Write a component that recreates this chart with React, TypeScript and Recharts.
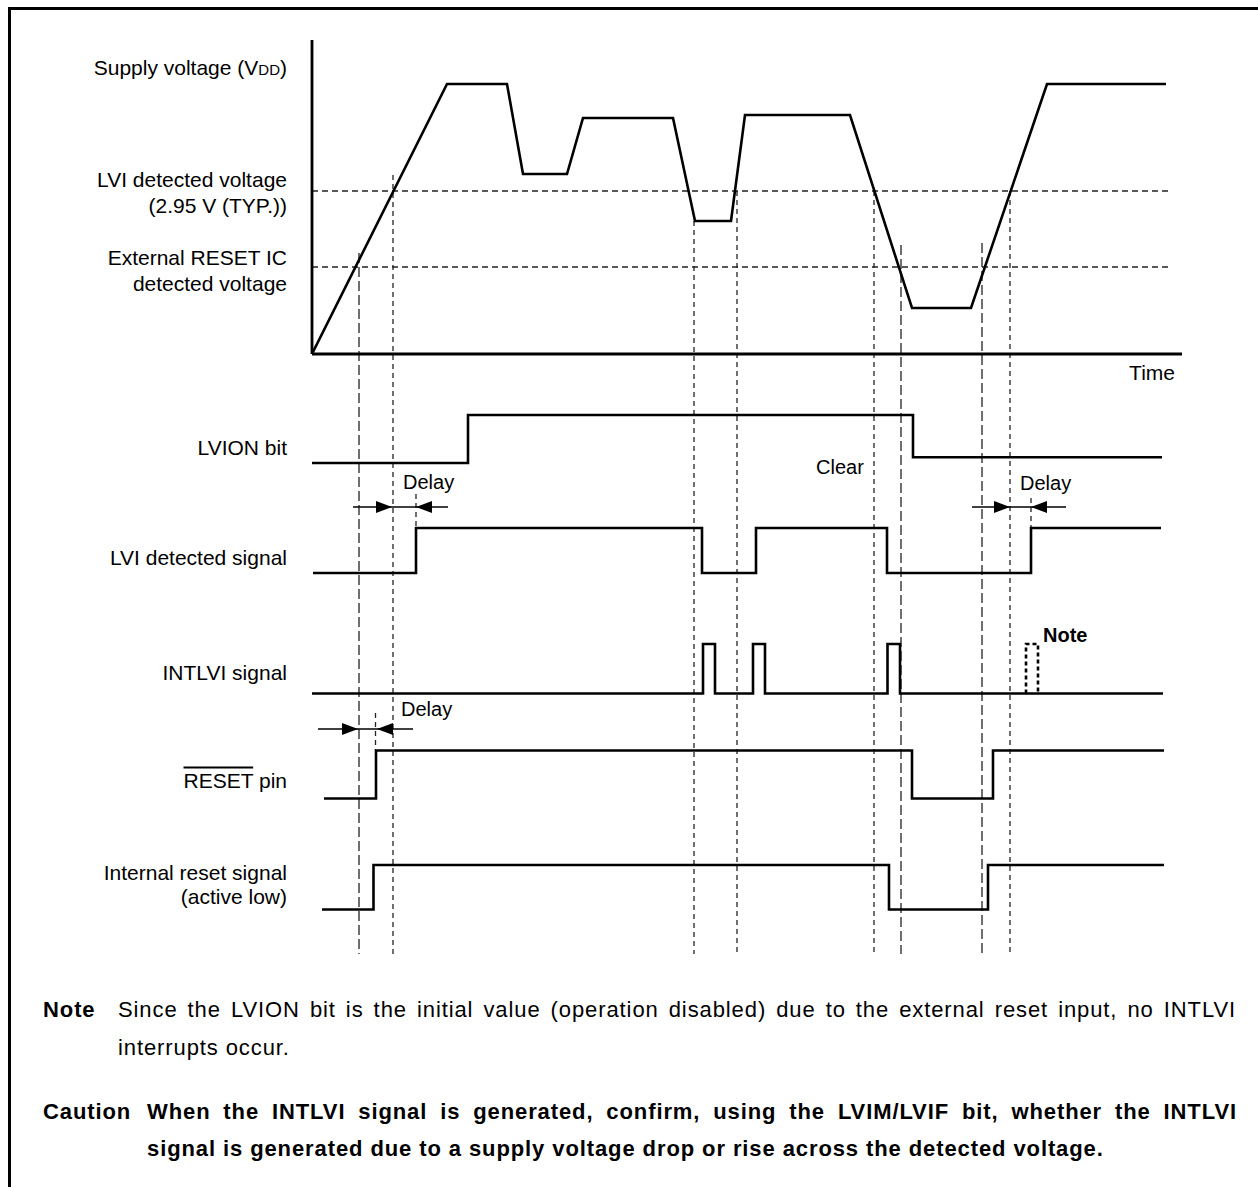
import React from "react";
import {
  ComposedChart,
  Line,
  Scatter,
  XAxis,
  YAxis,
  ReferenceLine,
} from "recharts";

// time in arbitrary units, 0 = origin of the VDD graph
const vddTimes = [0, 13.5, 19.5, 21.1, 25.5, 27.1, 36.1, 38.3, 41.9, 43.3, 53.8, 60, 65.9, 73.5, 85.4];
const vddLevels = [0, 27, 27, 18, 18, 23.6, 23.6, 13.3, 13.3, 23.9, 23.9, 4.6, 4.6, 27, 27];
const lviDetectLevel = 16.3;
const extResetLevel = 8.7;
const lviLineEnd = 86;
const extLineEnd = 85.6;

// digital signals: transition times and logic levels (0 low, 1 high)
const lvionTimes = [0, 15.6, 60.1, 85];
const lvionLevels = [0, 1, 0.12, 0.12];
const lviSigTimes = [0.1, 10.4, 39, 44.4, 57.5, 71.9, 84.9];
const lviSigLevels = [0, 1, 0, 1, 0, 1, 1];
const intlviTimes = [0, 39.1, 40.3, 44.1, 45.3, 57.55, 58.8, 85.1];
const intlviLevels = [0, 1, 0, 1, 0, 1, 0, 0];
const notePulseTimes = [71.4, 71.4, 72.6];
const notePulseLevels = [0, 1, 0];
const resetPinTimes = [1.2, 6.4, 60, 68.1, 85.2];
const resetPinLevels = [0, 1, 0, 1, 1];
const intResetTimes = [1.0, 6.15, 57.7, 67.6, 85.2];
const intResetLevels = [0, 1, 0, 1, 1];

// vertical guide lines (time, top level)
const guideTimes = [4.7, 8.1, 38.2, 42.5, 56.2, 58.9, 67, 69.8];
const guideTops = [10.1, 17.9, 13.3, 16.3, 16.3, 10.9, 11.1, 16.3];
const longDashGuides = [0, 5, 6];

// delay markers
const shaftStarts = [4.1, 66, 0.6];
const shaftEnds = [13.6, 75.4, 10.1];
const shaftLevels = [-15.3, -15.3, -37.5];
const arrowTimes = [8.0, 10.4, 69.8, 71.9, 4.6, 6.5];
const arrowLevels = [-15.3, -15.3, -15.3, -15.3, -37.5, -37.5];
const arrowDirs = ["r", "l", "r", "l", "r", "l"];
const tickTimes = [10.4, 71.9, 6.35];
const tickTops = [-14, -14.4, -35.9];
const tickBottoms = [-17.4, -17.4, -39.6];

// lane placement (layout only)
const lanes = {
  lvion: { base: -10.9, amp: 4.8 },
  lviSig: { base: -21.9, amp: 4.5 },
  intlvi: { base: -33.95, amp: 4.95 },
  resetPin: { base: -44.45, amp: 4.8 },
  intReset: { base: -55.55, amp: 4.45 },
};

const toRows = (times: number[], levels: number[], lane?: { base: number; amp: number }) =>
  times.map((t, i) => ({ t, v: lane ? lane.base + levels[i] * lane.amp : levels[i] }));

const vddData = toRows(vddTimes, vddLevels);
const lvionData = toRows(lvionTimes, lvionLevels, lanes.lvion);
const lviSigData = toRows(lviSigTimes, lviSigLevels, lanes.lviSig);
const intlviData = toRows(intlviTimes, intlviLevels, lanes.intlvi);
const noteData = toRows(notePulseTimes, notePulseLevels, lanes.intlvi);
const resetData = toRows(resetPinTimes, resetPinLevels, lanes.resetPin);
const intResetData = toRows(intResetTimes, intResetLevels, lanes.intReset);
const arrowData = arrowTimes.map((t, i) => ({ t, v: arrowLevels[i], dir: arrowDirs[i] }));

const BOTTOM = -60;
const TOP = 31.4;

const ArrowHead = (props: any) => {
  const { cx, cy, payload } = props;
  const d = payload.dir === "r" ? -1 : 1;
  const pts = `${cx},${cy} ${cx + d * 16},${cy - 6} ${cx + d * 16},${cy + 6}`;
  return <polygon points={pts} fill="#000" />;
};

const font = '"Liberation Sans", Arial, Helvetica, sans-serif';

const Txt = ({ x, y, right, bold, size = 21, ls = 0, children }: any) => (
  <div
    style={{
      position: "absolute",
      top: y,
      transform: "translateY(-50%)",
      ...(right ? { right: 1258 - x, textAlign: "right" } : { left: x }),
      fontWeight: bold ? "bold" : "normal",
      fontSize: size,
      letterSpacing: ls,
      lineHeight: 1,
      whiteSpace: "nowrap",
    }}
  >
    {children}
  </div>
);

const JustLine = ({ x, y, w, bold, children }: any) => (
  <div
    style={{
      position: "absolute",
      left: x,
      top: y,
      width: w,
      transform: "translateY(-50%)",
      fontSize: 22,
      letterSpacing: 0.9,
      lineHeight: 1,
      fontWeight: bold ? "bold" : "normal",
      textAlign: "justify",
      textAlignLast: "justify",
      whiteSpace: "nowrap",
    }}
  >
    {children}
  </div>
);

const wave = { stroke: "#000", strokeWidth: 2.6, dot: false, activeDot: false, isAnimationActive: false };

export default function App() {
  return (
    <div
      style={{
        position: "absolute",
        left: 0,
        top: 0,
        width: 1258,
        height: 1187,
        background: "#fff",
        overflow: "hidden",
        fontFamily: font,
        color: "#000",
      }}
    >
      <div
        style={{
          position: "absolute",
          left: 8,
          top: 7,
          width: 1260,
          height: 1190,
          borderTop: "3px solid #000",
          borderLeft: "3px solid #000",
        }}
      />
      <ComposedChart
        width={1258}
        height={1187}
        margin={{ top: 40, right: 76, bottom: 233, left: 312 }}
        style={{ position: "absolute", left: 0, top: 0 }}
      >
        <XAxis type="number" dataKey="t" domain={[0, 87]} hide allowDataOverflow />
        <YAxis type="number" domain={[BOTTOM, TOP]} hide allowDataOverflow />

        {guideTimes.map((t, i) => (
          <ReferenceLine
            key={`g${i}`}
            segment={[{ x: t, y: guideTops[i] }, { x: t, y: BOTTOM }]}
            stroke="#222"
            strokeWidth={1.3}
            strokeDasharray={longDashGuides.includes(i) ? "10 4" : "5 4"}
          />
        ))}
        <ReferenceLine
          segment={[{ x: 0, y: lviDetectLevel }, { x: lviLineEnd, y: lviDetectLevel }]}
          stroke="#222"
          strokeWidth={1.3}
          strokeDasharray="6 4"
        />
        <ReferenceLine
          segment={[{ x: 0, y: extResetLevel }, { x: extLineEnd, y: extResetLevel }]}
          stroke="#222"
          strokeWidth={1.3}
          strokeDasharray="6 4"
        />
        {tickTimes.map((t, i) => (
          <ReferenceLine
            key={`k${i}`}
            segment={[{ x: t, y: tickTops[i] }, { x: t, y: tickBottoms[i] }]}
            stroke="#222"
            strokeWidth={1.3}
            strokeDasharray="5 4"
          />
        ))}
        {shaftStarts.map((s, i) => (
          <ReferenceLine
            key={`s${i}`}
            segment={[{ x: s, y: shaftLevels[i] }, { x: shaftEnds[i], y: shaftLevels[i] }]}
            stroke="#000"
            strokeWidth={1.3}
          />
        ))}

        {/* axes of the VDD graph */}
        <ReferenceLine segment={[{ x: 0, y: 0 }, { x: 0, y: TOP }]} stroke="#000" strokeWidth={2.8} />
        <ReferenceLine y={0} stroke="#000" strokeWidth={2.8} />

        <Line data={vddData} dataKey="v" type="linear" {...wave} />
        <Line data={lvionData} dataKey="v" type="stepAfter" {...wave} />
        <Line data={lviSigData} dataKey="v" type="stepAfter" {...wave} />
        <Line data={intlviData} dataKey="v" type="stepAfter" {...wave} />
        <Line data={noteData} dataKey="v" type="stepAfter" {...wave} strokeDasharray="4 3" />
        <Line data={resetData} dataKey="v" type="stepAfter" {...wave} />
        <Line data={intResetData} dataKey="v" type="stepAfter" {...wave} />
        <Scatter data={arrowData} dataKey="v" shape={ArrowHead} isAnimationActive={false} />
      </ComposedChart>

      <Txt x={287} y={67} right>
        Supply voltage (V<span style={{ fontSize: 15 }}>DD</span>)
      </Txt>
      <Txt x={287} y={179} right>LVI detected voltage</Txt>
      <Txt x={287} y={205} right>(2.95 V (TYP.))</Txt>
      <Txt x={287} y={257} right>External RESET IC</Txt>
      <Txt x={287} y={283} right>detected voltage</Txt>
      <Txt x={1175} y={372} right>Time</Txt>
      <Txt x={287} y={447} right>LVION bit</Txt>
      <Txt x={287} y={557} right>LVI detected signal</Txt>
      <Txt x={287} y={672} right>INTLVI signal</Txt>
      <Txt x={287} y={780} right>
        <span style={{ textDecoration: "overline" }}>RESET</span> pin
      </Txt>
      <Txt x={287} y={872} right>Internal reset signal</Txt>
      <Txt x={287} y={896} right>(active low)</Txt>

      <Txt x={403} y={482} size={20}>Delay</Txt>
      <Txt x={1020} y={483} size={20}>Delay</Txt>
      <Txt x={401} y={709} size={20}>Delay</Txt>
      <Txt x={816} y={467} size={20}>Clear</Txt>
      <Txt x={1043} y={635} size={20} bold>Note</Txt>

      <Txt x={43} y={1010} size={22} ls={0.9} bold>Note</Txt>
      <JustLine x={118} y={1010} w={1118}>
        Since the LVION bit is the initial value (operation disabled) due to the external reset input, no INTLVI
      </JustLine>
      <Txt x={118} y={1048} size={22} ls={0.9}>interrupts occur.</Txt>
      <Txt x={43} y={1112} size={22} ls={0.9} bold>Caution</Txt>
      <JustLine x={147} y={1112} w={1090} bold>
        When the INTLVI signal is generated, confirm, using the LVIM/LVIF bit, whether the INTLVI
      </JustLine>
      <Txt x={147} y={1149} size={22} ls={0.9} bold>
        signal is generated due to a supply voltage drop or rise across the detected voltage.
      </Txt>
    </div>
  );
}
